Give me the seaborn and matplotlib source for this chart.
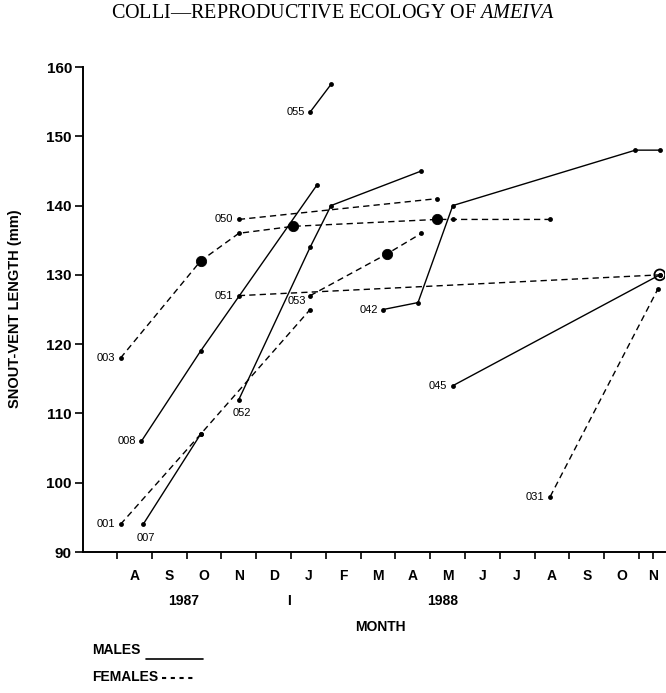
import pandas as pd
import seaborn as sns
import matplotlib.pyplot as plt
from matplotlib.lines import Line2D

# months counted from 1 Aug 1987 (0 = 1 Aug 1987, 5 = 1 Jan 1988, 15 = 1 Nov 1988)
month_003 = [0.1, 2.4, 3.5, 5.05, 9.2, 9.65, 12.45]
svl_003 = [118, 132, 136, 137, 138, 138, 138]
month_008 = [0.7, 2.4, 5.75]
svl_008 = [106, 119, 143]
month_001 = [0.1, 2.4, 5.55]
svl_001 = [94, 107, 125]
month_007 = [0.75, 2.4]
svl_007 = [94, 107]
month_050 = [3.5, 9.2]
svl_050 = [138, 141]
month_051 = [3.5, 15.6]
svl_051 = [127, 130]
month_052 = [3.5, 5.55, 6.15, 8.75]
svl_052 = [112, 134, 140, 145]
month_053 = [5.55, 7.75, 8.75]
svl_053 = [127, 133, 136]
month_055 = [5.55, 6.15]
svl_055 = [153.5, 157.5]
month_042 = [7.65, 8.65, 9.65, 14.9, 15.6]
svl_042 = [125, 126, 140, 148, 148]
month_045 = [9.65, 15.6]
svl_045 = [114, 130]
month_031 = [12.45, 15.55]
svl_031 = [98, 128]

# big dots and the open circle
big_month = [2.4, 5.05, 9.2, 7.75]
big_svl = [132, 137, 138, 133]
open_month = [15.6]
open_svl = [130]

month_labels = ["A", "S", "O", "N", "D", "J", "F", "M", "A", "M", "J", "J", "A", "S", "O", "N"]
year_labels = ["1987", "I", "1988"]
year_pos = [1.9, 4.95, 9.35]

lizards = {
    "003": ("F", month_003, svl_003),
    "008": ("M", month_008, svl_008),
    "001": ("F", month_001, svl_001),
    "007": ("M", month_007, svl_007),
    "050": ("F", month_050, svl_050),
    "051": ("F", month_051, svl_051),
    "052": ("M", month_052, svl_052),
    "053": ("F", month_053, svl_053),
    "055": ("M", month_055, svl_055),
    "042": ("M", month_042, svl_042),
    "045": ("M", month_045, svl_045),
    "031": ("F", month_031, svl_031),
}
rows = []
for lid, (sex, ms, ss) in lizards.items():
    for m, s in zip(ms, ss):
        rows.append({"lizard": lid, "sex": sex, "month": m, "svl": s})
df = pd.DataFrame(rows)

sns.set_style("ticks")
plt.rcParams["font.family"] = ["Liberation Sans", "DejaVu Sans"]
plt.rcParams["mathtext.fontset"] = "custom"
plt.rcParams["mathtext.rm"] = "Liberation Serif"
plt.rcParams["mathtext.it"] = "Liberation Serif:italic"
for key in ["text.color", "axes.labelcolor", "xtick.color", "ytick.color", "axes.edgecolor"]:
    plt.rcParams[key] = "black"

fig = plt.figure(figsize=(6.66, 6.93), dpi=100)
ax = fig.add_axes([83 / 666, 141 / 693, 582 / 666, 485 / 693])

sns.lineplot(
    data=df, x="month", y="svl", units="lizard", estimator=None,
    style="sex", dashes={"M": "", "F": (4.5, 3)},
    markers={"M": "o", "F": "o"}, markersize=3.5, markeredgewidth=0,
    color="black", lw=1.0, sort=False, legend=False, ax=ax,
)
sns.scatterplot(x=big_month, y=big_svl, s=55, color="black", edgecolor="black", ax=ax, zorder=5)
ax.scatter(open_month, open_svl, s=60, facecolor="none", edgecolor="black", linewidth=1.3, zorder=5)

# id labels next to each lizard's first point
offsets = {"007": (2, -10), "052": (2, -10), "053": (-3, -4)}
for lid, (sex, ms, ss) in lizards.items():
    if lid in ("007", "052"):
        ax.annotate(lid, (ms[0], ss[0]), xytext=offsets[lid], textcoords="offset points",
                    ha="center", va="center", fontsize=8)
    else:
        ax.annotate(lid, (ms[0], ss[0]), xytext=offsets.get(lid, (-4, 0)), textcoords="offset points",
                    ha="right", va="center", fontsize=8)

ax.set_xlim(-0.98, 15.75)
ax.set_ylim(90, 160)
ax.set_yticks(range(90, 161, 10))
ax.set_yticklabels([str(v) for v in range(90, 161, 10)], fontweight="bold", fontsize=11)
ax.xaxis.remove_overlapping_locs = False
ax.set_xticks(list(range(16)) + [15.4])
ax.set_xticklabels([])
ax.set_xticks([i + 0.5 for i in range(15)] + [15.4], minor=True)
ax.set_xticklabels(month_labels, minor=True, fontweight="bold", fontsize=10)
ax.tick_params(axis="x", which="major", length=5, width=1.2, direction="out")
ax.tick_params(axis="x", which="minor", length=0, pad=12)
ax.tick_params(axis="y", length=6, width=1.2, direction="out", pad=2)
ax.set_xlabel("")
ax.set_ylabel("")
for sp in ["left", "bottom"]:
    ax.spines[sp].set_linewidth(1.4)
sns.despine(ax=ax)

for txt, xp in zip(year_labels, year_pos):
    ax.annotate(txt, (xp, 0), xycoords=("data", "axes fraction"), xytext=(0, -35),
                textcoords="offset points", ha="center", va="center",
                fontweight="bold", fontsize=10)

fig.text(380 / 666, 1 - 627 / 693, "MONTH", ha="center", va="center", fontweight="bold", fontsize=10)
fig.text(15 / 666, 1 - 309 / 693, "SNOUT-VENT LENGTH (mm)", rotation=90,
         ha="center", va="center", fontweight="bold", fontsize=10.5)
fig.text(0.5, 1 - 14 / 693, r"COLLI—REPRODUCTIVE ECOLOGY OF $\mathit{AMEIVA}$",
         ha="center", va="center", family="Liberation Serif", fontsize=14.5)

# legend
fig.text(92 / 666, 1 - 650 / 693, "MALES", ha="left", va="center", fontweight="bold", fontsize=10)
fig.add_artist(Line2D([146 / 666, 203 / 666], [1 - 659 / 693, 1 - 659 / 693], color="black", lw=1.2))
fig.text(92 / 666, 1 - 677 / 693, "FEMALES", ha="left", va="center", fontweight="bold", fontsize=10)
fig.add_artist(Line2D([162 / 666, 196 / 666], [1 - 678 / 693, 1 - 678 / 693], color="black",
                      lw=1.5, dashes=(2, 2.2)))

fig.savefig("out.png", dpi=100)
